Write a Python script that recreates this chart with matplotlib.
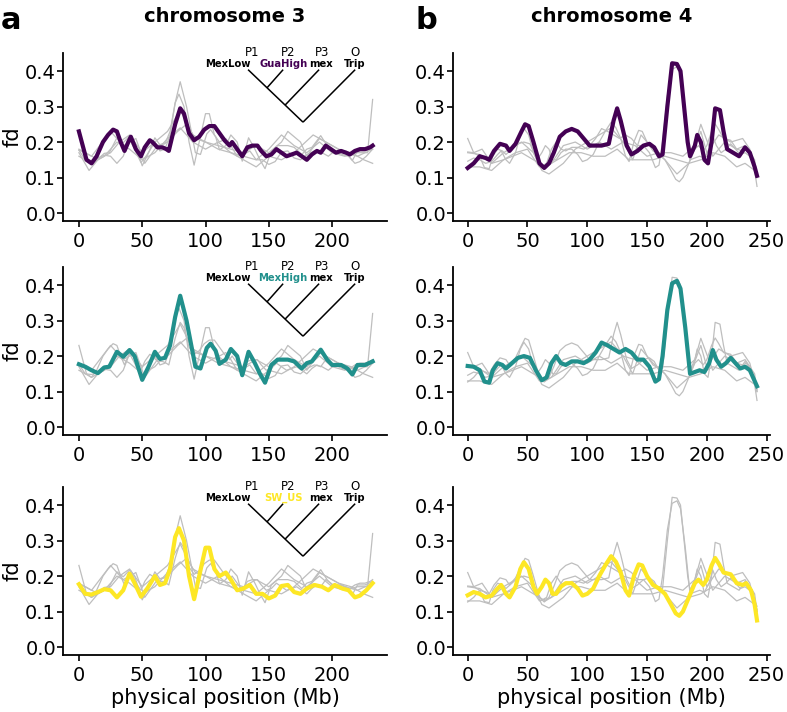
import matplotlib.pyplot as plt

# ---- chromosome 3 ----
chr3_gua_pos = [0, 6, 10, 14, 19, 23, 27, 30, 33, 36, 39, 41, 45, 49, 52, 56, 58, 62, 66, 69, 71, 76, 80, 83, 87, 91,
                95, 99, 103, 107, 111, 115, 119, 121, 124, 129, 133, 137, 141, 144, 148, 152, 156, 160, 164, 168,
                172, 176, 180, 184, 188, 191, 195, 199, 203, 207, 211, 214, 218, 222, 226, 230, 232]
chr3_gua_fd = [0.23, 0.15, 0.14, 0.16, 0.20, 0.22, 0.235, 0.23, 0.20, 0.175, 0.20, 0.215, 0.18, 0.16, 0.185, 0.205,
               0.20, 0.185, 0.185, 0.18, 0.175, 0.25, 0.295, 0.28, 0.225, 0.205, 0.215, 0.235, 0.245, 0.245, 0.225,
               0.205, 0.19, 0.20, 0.185, 0.16, 0.185, 0.19, 0.19, 0.175, 0.16, 0.165, 0.18, 0.17, 0.16, 0.165, 0.17,
               0.16, 0.15, 0.165, 0.175, 0.17, 0.19, 0.18, 0.17, 0.175, 0.17, 0.165, 0.175, 0.18, 0.18, 0.185, 0.19]

chr3_mexhigh_pos = [0, 5, 10, 15, 20, 24, 30, 35, 40, 44, 50, 55, 60, 64, 68, 72, 76, 80, 85, 92, 96, 101, 104, 108,
                    111, 116, 120, 125, 129, 134, 139, 143, 147, 152, 157, 165, 170, 176, 180, 184, 191, 196, 200,
                    207, 212, 216, 220, 226, 232]
chr3_mexhigh_fd = [0.177, 0.17, 0.16, 0.152, 0.168, 0.17, 0.212, 0.198, 0.217, 0.20, 0.133, 0.17, 0.212, 0.192,
                   0.195, 0.23, 0.31, 0.37, 0.30, 0.17, 0.165, 0.223, 0.235, 0.215, 0.178, 0.19, 0.22, 0.20, 0.146,
                   0.212, 0.18, 0.15, 0.125, 0.175, 0.19, 0.19, 0.185, 0.165, 0.18, 0.185, 0.218, 0.19, 0.175, 0.175,
                   0.165, 0.148, 0.175, 0.175, 0.185]

chr3_swus_pos = [0, 5, 10, 15, 20, 25, 30, 35, 40, 44, 49, 54, 60, 64, 68, 72, 76, 79, 83, 87, 91, 95, 100, 103, 107,
                 111, 116, 120, 125, 130, 135, 140, 145, 150, 155, 160, 165, 170, 175, 180, 186, 192, 197, 202, 208,
                 213, 218, 222, 227, 232]
chr3_swus_fd = [0.177, 0.15, 0.148, 0.155, 0.163, 0.16, 0.14, 0.16, 0.207, 0.18, 0.142, 0.165, 0.20, 0.175, 0.18,
                0.22, 0.31, 0.335, 0.30, 0.20, 0.135, 0.20, 0.28, 0.28, 0.22, 0.20, 0.21, 0.19, 0.16, 0.165, 0.175,
                0.15, 0.15, 0.137, 0.145, 0.172, 0.175, 0.155, 0.15, 0.165, 0.175, 0.17, 0.16, 0.175, 0.165, 0.16,
                0.14, 0.145, 0.16, 0.18]

chr3_grey_a_pos = [0, 8, 15, 25, 32, 40, 50, 60, 70, 80, 90, 100, 110, 120, 130, 140, 150, 160, 170, 180, 190,
                   200, 210, 220, 228, 232]
chr3_grey_a_fd = [0.17, 0.12, 0.15, 0.17, 0.20, 0.22, 0.17, 0.20, 0.23, 0.29, 0.22, 0.20, 0.18, 0.17, 0.16, 0.15,
                  0.18, 0.22, 0.19, 0.17, 0.20, 0.17, 0.16, 0.17, 0.17, 0.32]
chr3_grey_b_pos = [0, 10, 20, 30, 40, 50, 60, 70, 80, 90, 100, 110, 120, 130, 140, 150, 160, 170, 185, 195, 205,
                   215, 225, 232]
chr3_grey_b_fd = [0.16, 0.14, 0.16, 0.20, 0.18, 0.15, 0.17, 0.21, 0.24, 0.20, 0.18, 0.20, 0.17, 0.15, 0.13, 0.16,
                  0.15, 0.17, 0.22, 0.20, 0.18, 0.17, 0.15, 0.14]
chr3_grey_c_pos = [0, 10, 25, 35, 45, 52, 62, 70, 78, 85, 92, 100, 110, 120, 130, 140, 150, 160, 165, 175, 180,
                   190, 200, 210, 220, 232]
chr3_grey_c_fd = [0.18, 0.16, 0.23, 0.19, 0.21, 0.14, 0.19, 0.20, 0.23, 0.25, 0.21, 0.20, 0.19, 0.18, 0.17, 0.19,
                  0.17, 0.20, 0.23, 0.20, 0.16, 0.21, 0.19, 0.17, 0.16, 0.18]

# ---- chromosome 4 ----
chr4_gua_pos = [0, 5, 10, 15, 18, 22, 27, 32, 35, 40, 45, 48, 51, 55, 60, 64, 68, 72, 77, 82, 87, 92, 97, 102, 107,
                112, 118, 122, 125, 128, 133, 137, 142, 147, 152, 156, 160, 163, 167, 171, 175, 178, 181, 184, 186,
                190, 192, 195, 198, 201, 204, 207, 211, 214, 217, 222, 227, 232, 236, 240, 242]
chr4_gua_fd = [0.127, 0.14, 0.16, 0.155, 0.15, 0.175, 0.195, 0.19, 0.175, 0.195, 0.23, 0.25, 0.245, 0.20, 0.14,
               0.127, 0.14, 0.17, 0.215, 0.23, 0.237, 0.23, 0.21, 0.19, 0.19, 0.19, 0.195, 0.26, 0.295, 0.26, 0.19,
               0.165, 0.175, 0.19, 0.195, 0.185, 0.16, 0.165, 0.30, 0.422, 0.42, 0.40, 0.30, 0.20, 0.16, 0.19, 0.22,
               0.20, 0.15, 0.14, 0.20, 0.295, 0.29, 0.23, 0.18, 0.17, 0.16, 0.185, 0.17, 0.13, 0.105]

chr4_mexhigh_pos = [0, 5, 10, 14, 18, 21, 25, 29, 32, 37, 42, 47, 52, 57, 62, 66, 70, 74, 78, 82, 87, 92, 97, 102,
                    107, 112, 117, 122, 127, 132, 137, 142, 147, 152, 157, 160, 163, 167, 171, 175, 178, 182, 186,
                    190, 194, 198, 202, 205, 208, 212, 216, 220, 224, 228, 232, 236, 240, 242]
chr4_mexhigh_fd = [0.172, 0.17, 0.16, 0.128, 0.125, 0.16, 0.18, 0.175, 0.165, 0.18, 0.195, 0.20, 0.195, 0.16, 0.132,
                   0.14, 0.18, 0.20, 0.18, 0.175, 0.185, 0.185, 0.18, 0.19, 0.21, 0.238, 0.23, 0.22, 0.21, 0.22,
                   0.21, 0.19, 0.19, 0.17, 0.128, 0.135, 0.20, 0.33, 0.405, 0.412, 0.39, 0.28, 0.15, 0.155, 0.16,
                   0.155, 0.18, 0.217, 0.19, 0.17, 0.18, 0.195, 0.18, 0.165, 0.17, 0.16, 0.13, 0.115]

chr4_swus_pos = [0, 5, 10, 15, 20, 25, 28, 32, 35, 40, 44, 47, 51, 55, 58, 62, 65, 68, 71, 74, 78, 82, 87, 92, 96,
                 100, 105, 110, 115, 120, 124, 128, 132, 135, 139, 143, 146, 150, 155, 160, 165, 170, 174, 177, 180,
                 185, 190, 193, 197, 200, 204, 207, 210, 214, 220, 225, 230, 233, 237, 240, 242]
chr4_swus_fd = [0.146, 0.155, 0.15, 0.14, 0.145, 0.165, 0.175, 0.15, 0.14, 0.17, 0.22, 0.239, 0.22, 0.17, 0.15,
                0.17, 0.19, 0.18, 0.15, 0.15, 0.17, 0.18, 0.18, 0.165, 0.145, 0.15, 0.165, 0.20, 0.23, 0.256, 0.24,
                0.21, 0.16, 0.145, 0.20, 0.233, 0.23, 0.20, 0.175, 0.165, 0.15, 0.12, 0.095, 0.088, 0.10, 0.14,
                0.18, 0.19, 0.175, 0.19, 0.23, 0.251, 0.235, 0.21, 0.205, 0.18, 0.175, 0.18, 0.16, 0.12, 0.075]

chr4_grey_a_pos = [0, 5, 12, 20, 30, 45, 55, 62, 68, 80, 90, 100, 110, 120, 130, 138, 145, 155, 165, 175, 185,
                   195, 200, 210, 220, 230, 236, 242]
chr4_grey_a_fd = [0.21, 0.17, 0.18, 0.14, 0.17, 0.20, 0.17, 0.12, 0.11, 0.14, 0.18, 0.20, 0.22, 0.24, 0.20, 0.15,
                  0.22, 0.18, 0.15, 0.11, 0.14, 0.23, 0.17, 0.22, 0.20, 0.21, 0.18, 0.10]
chr4_grey_b_pos = [0, 10, 20, 30, 40, 50, 60, 70, 80, 90, 100, 110, 120, 130, 140, 150, 160, 170, 180, 190, 195,
                   205, 215, 225, 232, 240, 242]
chr4_grey_b_fd = [0.17, 0.165, 0.14, 0.15, 0.17, 0.18, 0.13, 0.14, 0.19, 0.20, 0.18, 0.20, 0.18, 0.20, 0.19, 0.16,
                  0.17, 0.17, 0.16, 0.19, 0.25, 0.16, 0.20, 0.18, 0.19, 0.15, 0.10]
chr4_grey_c_pos = [0, 10, 20, 30, 45, 55, 65, 75, 85, 95, 105, 115, 125, 135, 145, 155, 165, 175, 185, 195, 205,
                   215, 225, 232, 240]
chr4_grey_c_fd = [0.13, 0.13, 0.12, 0.15, 0.17, 0.15, 0.13, 0.15, 0.17, 0.17, 0.16, 0.16, 0.18, 0.15, 0.15, 0.15,
                  0.16, 0.15, 0.14, 0.15, 0.17, 0.16, 0.13, 0.14, 0.12]

pop_names = ['GuaHigh', 'MexHigh', 'SW_US']
pop_colors = ['#440154', '#21908C', '#FDE725']
grey = '#BEBEBE'

chr3_focal = [(chr3_gua_pos, chr3_gua_fd), (chr3_mexhigh_pos, chr3_mexhigh_fd), (chr3_swus_pos, chr3_swus_fd)]
chr3_other = [(chr3_grey_a_pos, chr3_grey_a_fd), (chr3_grey_b_pos, chr3_grey_b_fd), (chr3_grey_c_pos, chr3_grey_c_fd)]
chr4_focal = [(chr4_gua_pos, chr4_gua_fd), (chr4_mexhigh_pos, chr4_mexhigh_fd), (chr4_swus_pos, chr4_swus_fd)]
chr4_other = [(chr4_grey_a_pos, chr4_grey_a_fd), (chr4_grey_b_pos, chr4_grey_b_fd), (chr4_grey_c_pos, chr4_grey_c_fd)]


def draw_tree(ax, p2_name, p2_color):
    # little ABBA-BABA topology in the corner
    top = 0.404
    leaves = [133.6, 161.3, 189.7, 218.2]
    root = (177, 0.256)
    n1 = (148.6, 0.353)
    n2 = (162.8, 0.304)
    kw = dict(color='black', lw=1.1, clip_on=False, solid_capstyle='butt')
    ax.plot([leaves[0], root[0]], [top, root[1]], **kw)
    ax.plot([leaves[1], n1[0]], [top, n1[1]], **kw)
    ax.plot([leaves[2], n2[0]], [top, n2[1]], **kw)
    ax.plot([leaves[3], root[0]], [top, root[1]], **kw)
    for x, lab in zip([136.8, 165.2, 192, 218.2], ['P1', 'P2', 'P3', 'O']):
        ax.text(x, 0.452, lab, ha='center', va='center', fontsize=8.5)
    nk = dict(va='center', fontsize=7.2, fontweight='bold')
    ax.text(136, 0.419, 'MexLow', ha='right', **nk)
    ax.text(161.3, 0.419, p2_name, ha='center', color=p2_color, **nk)
    ax.text(191.3, 0.419, 'mex', ha='center', **nk)
    ax.text(218.2, 0.419, 'Trip', ha='center', **nk)


fig = plt.figure(figsize=(7.87, 7.12), dpi=100)

row_bottoms = [0.6896, 0.389, 0.080]
col_lefts = [0.080, 0.5756]
col_widths = [0.412, 0.403]
xlims = [(-12.6, 243.5), (-12.3, 253)]
xticks = [[0, 50, 100, 150, 200], [0, 50, 100, 150, 200, 250]]

for c, (focal, other) in enumerate([(chr3_focal, chr3_other), (chr4_focal, chr4_other)]):
    for r in range(3):
        ax = fig.add_axes([col_lefts[c], row_bottoms[r], col_widths[c], 0.236])
        greys = [s for i, s in enumerate(focal) if i != r] + other
        for pos, fd in greys:
            ax.plot(pos, fd, color=grey, lw=0.9)
        ax.plot(focal[r][0], focal[r][1], color=pop_colors[r], lw=3)

        ax.set_xlim(*xlims[c])
        ax.set_ylim(-0.0225, 0.451)
        ax.set_xticks(xticks[c])
        ax.set_yticks([0.0, 0.1, 0.2, 0.3, 0.4])
        ax.set_yticklabels(['0.0', '0.1', '0.2', '0.3', '0.4'])
        ax.spines['top'].set_visible(False)
        ax.spines['right'].set_visible(False)
        for sp in ['left', 'bottom']:
            ax.spines[sp].set_linewidth(1.3)
        ax.tick_params(direction='out', length=4, width=1.2, labelsize=14)
        ax.tick_params(axis='y', pad=1)
        ax.tick_params(axis='x', pad=4)

        if c == 0:
            ax.set_ylabel('fd', fontsize=15)
            ax.yaxis.set_label_coords(-0.125, 0.5)
            draw_tree(ax, pop_names[r], pop_colors[r])
        if r == 2:
            ax.set_xlabel('physical position (Mb)', fontsize=15, labelpad=2)
        if r == 0:
            ax.set_title('chromosome %d' % (3 + c), fontsize=14, fontweight='bold', pad=22)

fig.text(0.001, 0.992, 'a', fontsize=22, fontweight='bold', ha='left', va='top')
fig.text(0.528, 0.992, 'b', fontsize=22, fontweight='bold', ha='left', va='top')

fig.savefig('out.png', dpi=100)
